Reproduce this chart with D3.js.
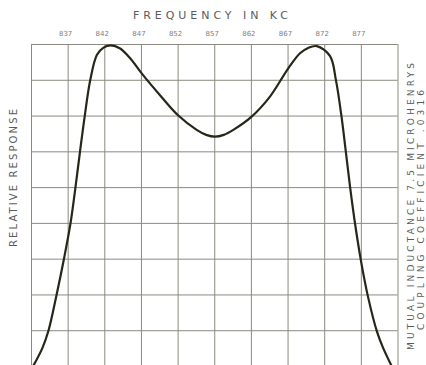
<!DOCTYPE html>
<html>
<head>
  <meta charset="utf-8">
  <title>Relative Response</title>
  <script src="https://cdnjs.cloudflare.com/ajax/libs/d3/7.8.5/d3.min.js"></script>
  <style>
    body { margin: 0; background: #fff; }
    svg { display: block; font-family: "DejaVu Sans", sans-serif; }
    .grid line { stroke: #8a8a80; stroke-width: 1px; }
    .grid path { display: none; }
    .curve { fill: none; stroke: #26261a; stroke-width: 2.2px; }
    .lbl { fill: #5a5a5a; }
  </style>
</head>
<body>
  <svg width="426" height="365"></svg>
  <script>
    // frequency in kc, relative response in grid divisions
    var freq = [832.3, 833.55, 834.4, 835.5, 836.5, 837.4, 838.07, 838.69, 839.34, 840.09, 841.0, 841.9, 842.9,
                844.1, 845.5, 847.1, 849.6, 852.1, 854.6, 855.9, 857.1, 858.3, 859.6, 862.1, 864.6, 867.1, 868.7,
                869.8, 871.0, 872.8, 873.6, 874.35, 874.95, 875.55, 876.2, 877.0, 877.95, 879.2, 880.05, 881.2];
    var response = [0, 0.5, 1.0, 2.0, 3.0, 4.0, 5.0, 6.0, 7.0, 8.0, 8.7, 8.9, 8.96,
                    8.88, 8.61, 8.18, 7.57, 7.0, 6.6, 6.46, 6.41, 6.46, 6.6, 6.97, 7.53, 8.32, 8.74,
                    8.89, 8.94, 8.66, 7.99, 6.99, 5.99, 4.97, 3.99, 2.96, 1.96, 0.96, 0.5, 0];
    var tickLabels = ["837", "842", "847", "852", "857", "862", "867", "872", "877"];
    var tickFreqs = [837, 842, 847, 852, 857, 862, 867, 872, 877];

    var svg = d3.select("svg");
    var plotL = 31, plotR = 397.5, plotT = 44, plotB = 366;

    var x = d3.scaleLinear().domain([832, 882]).range([plotL, plotR]);
    var y = d3.scaleLinear().domain([0, 9]).range([plotB, plotT]);

    // vertical grid
    svg.append("g")
      .attr("class", "grid")
      .attr("transform", "translate(0," + plotB + ")")
      .call(d3.axisBottom(x).tickValues(d3.range(832, 883, 5)).tickSize(-(plotB - plotT)).tickFormat(""));

    // horizontal grid
    svg.append("g")
      .attr("class", "grid")
      .attr("transform", "translate(" + plotL + ",0)")
      .call(d3.axisLeft(y).tickValues(d3.range(0, 10)).tickSize(-(plotR - plotL)).tickFormat(""));

    // frequency labels on top
    svg.append("g")
      .selectAll("text")
      .data(tickFreqs)
      .enter()
      .append("text")
      .attr("x", d => x(d) - 2)
      .attr("y", 36)
      .attr("text-anchor", "middle")
      .style("font-size", "7px")
      .style("fill", "#808080")
      .text((d, i) => tickLabels[i]);

    var pts = freq.map((f, i) => [f, response[i]]);
    var line = d3.line()
      .x(d => x(d[0]))
      .y(d => y(d[1]))
      .curve(d3.curveCatmullRom.alpha(0.5));

    svg.append("path")
      .datum(pts)
      .attr("class", "curve")
      .attr("d", line);

    // titles
    svg.append("text")
      .attr("class", "lbl")
      .attr("x", 133)
      .attr("y", 19)
      .attr("textLength", 155)
      .attr("lengthAdjust", "spacing")
      .style("font-size", "11px")
      .text("FREQUENCY IN KC");

    svg.append("text")
      .attr("class", "lbl")
      .attr("transform", "translate(17,247) rotate(-90)")
      .attr("textLength", 138)
      .attr("lengthAdjust", "spacing")
      .style("font-size", "10px")
      .text("RELATIVE RESPONSE");

    svg.append("text")
      .attr("class", "lbl")
      .attr("transform", "translate(414,350) rotate(-90)")
      .attr("textLength", 287)
      .attr("lengthAdjust", "spacing")
      .style("font-size", "9px")
      .text("MUTUAL INDUCTANCE 7.5 MICROHENRYS");

    svg.append("text")
      .attr("class", "lbl")
      .attr("transform", "translate(424,330) rotate(-90)")
      .attr("textLength", 240)
      .attr("lengthAdjust", "spacing")
      .style("font-size", "9px")
      .text("COUPLING COEFFICIENT .0316");
  </script>
</body>
</html>
